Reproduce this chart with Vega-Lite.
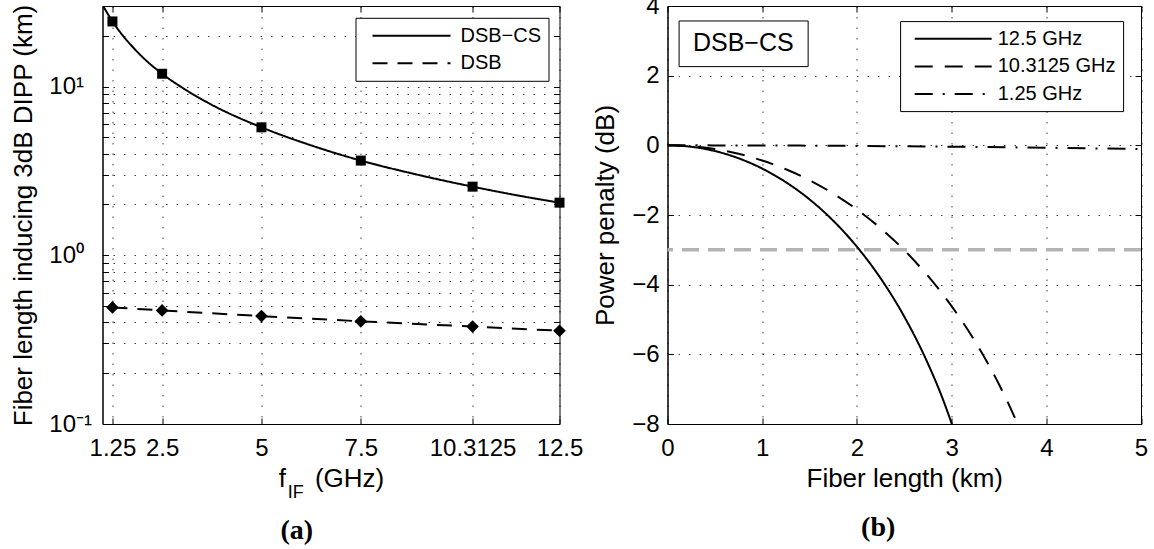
{
  "$schema": "https://vega.github.io/schema/vega-lite/v6.json",
  "autosize": {"type": "pad"},
  "padding": {"left": 9.5, "top": -7, "right": 0, "bottom": 0},
  "background": "white",
  "datasets": {
    "lenLines": [
      {"f": 1.0, "len": 30.5, "series": "DSB−CS"},
      {"f": 1.25, "len": 24.3, "series": "DSB−CS"},
      {"f": 1.5, "len": 20.2, "series": "DSB−CS"},
      {"f": 1.75, "len": 17.26, "series": "DSB−CS"},
      {"f": 2.0, "len": 15.0, "series": "DSB−CS"},
      {"f": 2.5, "len": 11.9, "series": "DSB−CS"},
      {"f": 3.0, "len": 9.87, "series": "DSB−CS"},
      {"f": 3.75, "len": 7.79, "series": "DSB−CS"},
      {"f": 5.0, "len": 5.73, "series": "DSB−CS"},
      {"f": 6.25, "len": 4.48, "series": "DSB−CS"},
      {"f": 7.5, "len": 3.64, "series": "DSB−CS"},
      {"f": 8.75, "len": 3.07, "series": "DSB−CS"},
      {"f": 10.3125, "len": 2.55, "series": "DSB−CS"},
      {"f": 11.5, "len": 2.25, "series": "DSB−CS"},
      {"f": 12.5, "len": 2.05, "series": "DSB−CS"},
      {"f": 1.25, "len": 0.491, "series": "DSB"},
      {"f": 2.5, "len": 0.471, "series": "DSB"},
      {"f": 5.0, "len": 0.436, "series": "DSB"},
      {"f": 7.5, "len": 0.406, "series": "DSB"},
      {"f": 10.3125, "len": 0.378, "series": "DSB"},
      {"f": 12.5, "len": 0.357, "series": "DSB"}
    ],
    "lenPts": [
      {"f": 1.25, "len": 24.3, "series": "DSB−CS"},
      {"f": 2.5, "len": 11.9, "series": "DSB−CS"},
      {"f": 5.0, "len": 5.73, "series": "DSB−CS"},
      {"f": 7.5, "len": 3.64, "series": "DSB−CS"},
      {"f": 10.3125, "len": 2.55, "series": "DSB−CS"},
      {"f": 12.5, "len": 2.05, "series": "DSB−CS"},
      {"f": 1.25, "len": 0.491, "series": "DSB"},
      {"f": 2.5, "len": 0.471, "series": "DSB"},
      {"f": 5.0, "len": 0.436, "series": "DSB"},
      {"f": 7.5, "len": 0.406, "series": "DSB"},
      {"f": 10.3125, "len": 0.378, "series": "DSB"},
      {"f": 12.5, "len": 0.357, "series": "DSB"}
    ],
    "pp": [
      {"L": 0, "pp": 0, "series": "12.5 GHz"},
      {"L": 0.25, "pp": -0.041, "series": "12.5 GHz"},
      {"L": 0.5, "pp": -0.164, "series": "12.5 GHz"},
      {"L": 0.75, "pp": -0.371, "series": "12.5 GHz"},
      {"L": 1.0, "pp": -0.667, "series": "12.5 GHz"},
      {"L": 1.25, "pp": -1.058, "series": "12.5 GHz"},
      {"L": 1.5, "pp": -1.552, "series": "12.5 GHz"},
      {"L": 1.75, "pp": -2.164, "series": "12.5 GHz"},
      {"L": 2.0, "pp": -2.91, "series": "12.5 GHz"},
      {"L": 2.25, "pp": -3.816, "series": "12.5 GHz"},
      {"L": 2.5, "pp": -4.916, "series": "12.5 GHz"},
      {"L": 2.75, "pp": -6.265, "series": "12.5 GHz"},
      {"L": 2.9, "pp": -7.233, "series": "12.5 GHz"},
      {"L": 3.0, "pp": -7.98, "series": "12.5 GHz"},
      {"L": 3.05, "pp": -8.38, "series": "12.5 GHz"},
      {"L": 0, "pp": 0, "series": "10.3125 GHz"},
      {"L": 0.25, "pp": -0.027, "series": "10.3125 GHz"},
      {"L": 0.5, "pp": -0.108, "series": "10.3125 GHz"},
      {"L": 0.75, "pp": -0.243, "series": "10.3125 GHz"},
      {"L": 1.0, "pp": -0.436, "series": "10.3125 GHz"},
      {"L": 1.25, "pp": -0.688, "series": "10.3125 GHz"},
      {"L": 1.5, "pp": -1.002, "series": "10.3125 GHz"},
      {"L": 1.75, "pp": -1.385, "series": "10.3125 GHz"},
      {"L": 2.0, "pp": -1.841, "series": "10.3125 GHz"},
      {"L": 2.25, "pp": -2.379, "series": "10.3125 GHz"},
      {"L": 2.5, "pp": -3.01, "series": "10.3125 GHz"},
      {"L": 2.75, "pp": -3.749, "series": "10.3125 GHz"},
      {"L": 3.0, "pp": -4.616, "series": "10.3125 GHz"},
      {"L": 3.25, "pp": -5.639, "series": "10.3125 GHz"},
      {"L": 3.5, "pp": -6.859, "series": "10.3125 GHz"},
      {"L": 3.6, "pp": -7.416, "series": "10.3125 GHz"},
      {"L": 3.7, "pp": -8.02, "series": "10.3125 GHz"},
      {"L": 0, "pp": 0, "series": "1.25 GHz"},
      {"L": 1, "pp": -0.004, "series": "1.25 GHz"},
      {"L": 2, "pp": -0.017, "series": "1.25 GHz"},
      {"L": 3, "pp": -0.039, "series": "1.25 GHz"},
      {"L": 4, "pp": -0.069, "series": "1.25 GHz"},
      {"L": 5, "pp": -0.108, "series": "1.25 GHz"}
    ]
  },
  "spacing": 108,
  "bounds": "flush",
  "resolve": {"scale": {"strokeDash": "independent"}, "legend": {"strokeDash": "independent"}},
  "hconcat": [
    {
      "width": 457,
      "height": 418,
      "title": {"text": "(a)", "orient": "bottom", "font": "Liberation Serif", "fontSize": 28, "fontWeight": "bold", "anchor": "middle", "frame": "bounds", "offset": 15, "color": "black"},
      "resolve": {"axis": {"x": "independent", "y": "independent"}},
      "layer": [
        {
          "data": {"name": "lenLines"},
          "mark": {"type": "line", "clip": true, "strokeWidth": 2, "color": "black", "interpolate": "monotone"},
          "encoding": {
            "x": {"field": "f", "type": "quantitative", "scale": {"domain": [1, 12.5], "nice": false, "zero": false},
                  "axis": {"values": [1.25, 2.5, 5, 7.5, 10.3125, 12.5], "labelExpr": "'' + datum.value", "title": "f\u00a0\u00a0\u00a0\u00a0(GHz)", "grid": true, "labelPadding": 18.5, "titlePadding": 5, "labelFlush": false, "labelOverlap": false}},
            "y": {"field": "len", "type": "quantitative", "scale": {"type": "log", "domain": [0.1, 30], "nice": false},
                  "axis": {"values": [0.1, 0.2, 0.3, 0.4, 0.5, 0.6, 0.7, 0.8, 0.9, 1, 2, 3, 4, 5, 6, 7, 8, 9, 10, 20, 30],
                           "labelExpr": "datum.value == 0.1 ? '10⁻¹' : datum.value == 1 ? '10⁰' : datum.value == 10 ? '10¹' : ''",
                           "labelAlign": "left", "labelPadding": 59.7, "labelOverlap": false, "labelFlush": false,
                           "title": "Fiber length inducing 3dB DIPP (km)", "titlePadding": 12, "grid": true}},
            "strokeDash": {"field": "series", "type": "nominal",
                           "scale": {"domain": ["DSB−CS", "DSB"], "range": [[1, 0], [15, 10]]},
                           "legend": {"title": null, "orient": "none", "legendX": 253, "legendY": 11.8, "symbolType": "M-1,0H6.8", "symbolSize": 400, "symbolStrokeWidth": 2, "symbolStrokeColor": "black", "labelFontSize": 20, "labelColor": "black", "strokeColor": "black", "fillColor": "white", "padding": 7, "rowPadding": 6.5, "labelOffset": 67, "symbolOffset": 9}}
          }
        },
        {
          "data": {"name": "lenPts"},
          "transform": [{"filter": "datum.series === 'DSB−CS'"}],
          "mark": {"type": "point", "shape": "square", "filled": true, "color": "black", "opacity": 1, "size": 100},
          "encoding": {
            "x": {"field": "f", "type": "quantitative", "axis": null},
            "y": {"field": "len", "type": "quantitative", "axis": null}
          }
        },
        {
          "data": {"name": "lenPts"},
          "transform": [{"filter": "datum.series === 'DSB'"}],
          "mark": {"type": "point", "shape": "diamond", "filled": true, "color": "black", "opacity": 1, "size": 160},
          "encoding": {
            "x": {"field": "f", "type": "quantitative", "axis": null},
            "y": {"field": "len", "type": "quantitative", "axis": null}
          }
        },
        {
          "data": {"values": [{"label": "IF"}]},
          "mark": {"type": "text", "fontSize": 18, "font": "Liberation Sans", "color": "black", "align": "center", "baseline": "alphabetic", "dy": 74, "clip": false},
          "encoding": {
            "text": {"field": "label"},
            "x": {"datum": 5.86, "type": "quantitative", "axis": null},
            "y": {"datum": 0.1, "type": "quantitative", "axis": null}
          }
        },
        {
          "data": {"name": "lenPts"},
          "mark": {"type": "point", "opacity": 0},
          "encoding": {
            "x": {"field": "f", "type": "quantitative", "axis": {"orient": "top", "values": [1.25, 2.5, 5, 7.5, 10.3125, 12.5], "labels": false, "title": null, "grid": false, "domain": false}},
            "y": {"field": "len", "type": "quantitative", "axis": {"orient": "right", "values": [0.1, 0.2, 0.3, 0.4, 0.5, 0.6, 0.7, 0.8, 0.9, 1, 2, 3, 4, 5, 6, 7, 8, 9, 10, 20, 30], "labels": false, "title": null, "grid": false, "domain": false}}
          }
        }
      ]
    },
    {
      "width": 473.5,
      "height": 418,
      "title": {"text": "(b)", "orient": "bottom", "font": "Liberation Serif", "fontSize": 28, "fontWeight": "bold", "anchor": "middle", "frame": "bounds", "offset": 22, "dx": 8, "color": "black"},
      "resolve": {"axis": {"x": "independent", "y": "independent"}},
      "layer": [
        {
          "data": {"values": [{"level": -3}]},
          "mark": {"type": "rule", "color": "#b3b3b3", "strokeWidth": 3.5, "strokeDash": [17, 9]},
          "encoding": {
            "y": {"field": "level", "type": "quantitative", "axis": null}
          }
        },
        {
          "data": {"name": "pp"},
          "mark": {"type": "line", "clip": true, "strokeWidth": 2, "color": "black", "interpolate": "monotone"},
          "encoding": {
            "x": {"field": "L", "type": "quantitative", "scale": {"domain": [0, 5], "nice": false},
                  "axis": {"values": [0, 1, 2, 3, 4, 5], "title": "Fiber length (km)", "grid": true, "labelPadding": 18.5, "titlePadding": 5, "labelFlush": false}},
            "y": {"field": "pp", "type": "quantitative", "scale": {"domain": [-8, 4], "nice": false},
                  "axis": {"values": [-8, -6, -4, -2, 0, 2, 4], "title": "Power penalty (dB)", "grid": true, "labelPadding": 14.4, "titlePadding": 13, "labelFlush": false}},
            "strokeDash": {"field": "series", "type": "nominal",
                           "scale": {"domain": ["12.5 GHz", "10.3125 GHz", "1.25 GHz"], "range": [[1, 0], [18, 12], [18, 10, 2, 10]]},
                           "legend": {"title": null, "orient": "none", "legendX": 232.6, "legendY": 15.1, "symbolType": "M-1,0H6.7", "symbolSize": 400, "symbolStrokeWidth": 2, "symbolStrokeColor": "black", "labelFontSize": 20, "labelColor": "black", "strokeColor": "black", "fillColor": "white", "padding": 6.6, "rowPadding": 6.7, "labelOffset": 62, "symbolOffset": 7}}
          }
        },
        {
          "data": {"values": [{"x1": 0.1225, "x2": 1.485, "y1": 3.57, "y2": 2.26, "label": "DSB−CS", "xc": 0.8, "yc": 2.93}]},
          "layer": [
            {
              "mark": {"type": "rect", "fill": "white", "stroke": "black", "strokeWidth": 1},
              "encoding": {
                "x": {"field": "x1", "type": "quantitative", "axis": null},
                "x2": {"field": "x2"},
                "y": {"field": "y1", "type": "quantitative", "axis": null},
                "y2": {"field": "y2"}
              }
            },
            {
              "mark": {"type": "text", "fontSize": 25, "font": "Liberation Sans", "color": "black", "align": "center", "baseline": "middle"},
              "encoding": {
                "text": {"field": "label"},
                "x": {"field": "xc", "type": "quantitative", "axis": null},
                "y": {"field": "yc", "type": "quantitative", "axis": null}
              }
            }
          ]
        },
        {
          "data": {"name": "pp"},
          "mark": {"type": "point", "opacity": 0},
          "encoding": {
            "x": {"field": "L", "type": "quantitative", "axis": {"orient": "top", "values": [0, 1, 2, 3, 4, 5], "labels": false, "title": null, "grid": false, "domain": false}},
            "y": {"field": "pp", "type": "quantitative", "axis": {"orient": "right", "values": [-8, -6, -4, -2, 0, 2, 4], "labels": false, "title": null, "grid": false, "domain": false}}
          }
        }
      ]
    }
  ],
  "config": {
    "font": "Liberation Sans",
    "view": {"stroke": "black", "strokeWidth": 1},
    "title": {"color": "black"},
    "axis": {
      "domainColor": "black", "domainWidth": 1,
      "tickColor": "black", "tickSize": -6, "tickWidth": 1,
      "labelColor": "black", "labelFontSize": 24, "labelFont": "Liberation Sans",
      "titleColor": "black", "titleFontSize": 26, "titleFontWeight": "normal", "titleFont": "Liberation Sans",
      "gridColor": "black", "gridDash": [1.5, 9], "gridOpacity": 0.75, "gridWidth": 1
    }
  }
}
